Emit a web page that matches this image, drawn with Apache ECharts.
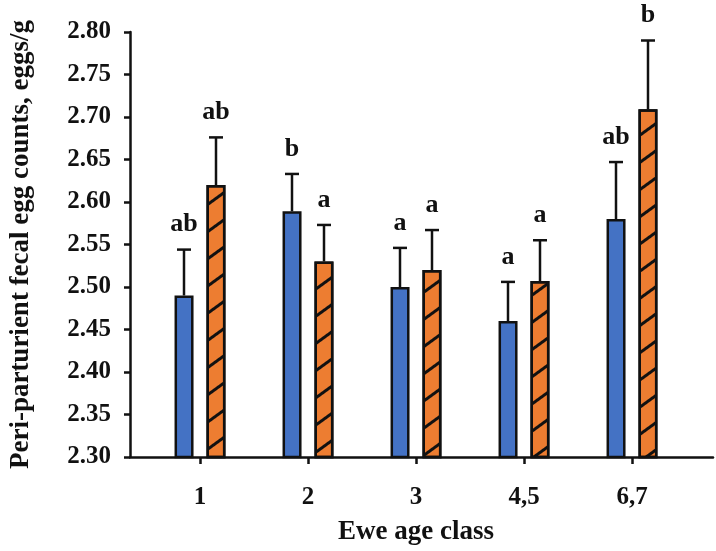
<!DOCTYPE html>
<html><head><meta charset="utf-8">
<script src="https://cdn.jsdelivr.net/npm/echarts@6/dist/echarts.min.js"></script>
<style>html,body{margin:0;padding:0;background:#fff}#c{width:716px;height:551px}</style>
</head><body><div id="c"></div>
<script>
var categories = ['1', '2', '3', '4,5', '6,7'];
var blueValues = [2.490, 2.589, 2.500, 2.460, 2.580];
var blueErrTop = [2.544, 2.633, 2.546, 2.506, 2.647];
var orangeValues = [2.620, 2.530, 2.520, 2.507, 2.709];
var orangeErrTop = [2.676, 2.573, 2.567, 2.555, 2.790];
var blueLetters = ['ab', 'b', 'a', 'a', 'ab'];
var orangeLetters = ['ab', 'a', 'a', 'a', 'b'];
var yMin = 2.30, yMax = 2.80, yStep = 0.05;

var FONT = '"Liberation Serif", "Times New Roman", serif';
var chart = echarts.init(document.getElementById('c'));

function errSeries(values, tops, letters, dx) {
  var data = categories.map(function (c, i) { return [i, values[i], tops[i]]; });
  return {
    type: 'custom', xAxisIndex: 1, yAxisIndex: 1, z: 1,
    data: data,
    renderItem: function (params, api) {
      var i = api.value(0);
      var b = api.coord([i, api.value(1)]);
      var t = api.coord([i, api.value(2)]);
      var x = b[0] + dx;
      return {
        type: 'group',
        children: [
          { type: 'line', shape: { x1: x, y1: b[1], x2: x, y2: t[1] }, style: { stroke: '#111', lineWidth: 2.5 } },
          { type: 'line', shape: { x1: x - 7, y1: t[1], x2: x + 7, y2: t[1] }, style: { stroke: '#111', lineWidth: 2.5 } },
          { type: 'text', x: x, y: t[1] - 25, style: { text: letters[i], fill: '#111', font: 'bold 26px ' + FONT, align: 'center', verticalAlign: 'middle' } }
        ]
      };
    }
  };
}

chart.setOption({
  animation: false,
  grid: [
    { left: 117, right: 3, top: 32, bottom: 94 },
    { left: 146, right: 30, top: 32, bottom: 94 }
  ],
  xAxis: [
    { type: 'value', gridIndex: 0, min: 0, max: 1,
      axisLine: { show: true, lineStyle: { color: '#111', width: 2.5 } },
      axisTick: { show: false }, axisLabel: { show: false }, splitLine: { show: false } },
    { type: 'category', gridIndex: 1, data: categories,
      axisLine: { show: false },
      axisTick: { show: true, alignWithLabel: true, length: 7, lineStyle: { color: '#111', width: 2.5 } },
      axisLabel: { color: '#111', fontFamily: FONT, fontWeight: 'bold', fontSize: 25, margin: 28 },
      name: 'Ewe age class', nameLocation: 'middle', nameGap: 62,
      nameTextStyle: { color: '#111', fontFamily: FONT, fontWeight: 'bold', fontSize: 27 } }
  ],
  yAxis: [
    { type: 'value', gridIndex: 0, min: yMin, max: yMax, interval: yStep,
      axisLine: { show: true, lineStyle: { color: '#111', width: 2.5 } },
      axisTick: { show: true, length: 6, lineStyle: { color: '#111', width: 2.5 } },
      axisLabel: { color: '#111', fontFamily: FONT, fontWeight: 'bold', fontSize: 25, margin: 19,
        formatter: function (v) { return v.toFixed(2); } },
      splitLine: { show: false },
      name: 'Peri-parturient fecal egg counts, eggs/g', nameLocation: 'middle', nameGap: 95,
      nameTextStyle: { color: '#111', fontFamily: FONT, fontWeight: 'bold', fontSize: 27 } },
    { type: 'value', gridIndex: 1, min: yMin, max: yMax, interval: yStep, show: false }
  ],
  series: [
    { type: 'bar', xAxisIndex: 1, yAxisIndex: 1, data: blueValues, barWidth: 19, barGap: '68%', z: 2,
      itemStyle: { color: '#4472C4', borderColor: '#111', borderWidth: 2.5 } },
    { type: 'bar', xAxisIndex: 1, yAxisIndex: 1, data: orangeValues, barWidth: 19, z: 2,
      itemStyle: { color: '#ED7D31', borderColor: '#111', borderWidth: 2.5,
        decal: { symbol: 'rect', color: '#111', backgroundColor: null, dashArrayX: [1, 0], dashArrayY: [2.5, 19], rotation: -Math.PI / 5 } } },
    errSeries(blueValues, blueErrTop, blueLetters, -16),
    errSeries(orangeValues, orangeErrTop, orangeLetters, 16)
  ]
});
</script></body></html>
